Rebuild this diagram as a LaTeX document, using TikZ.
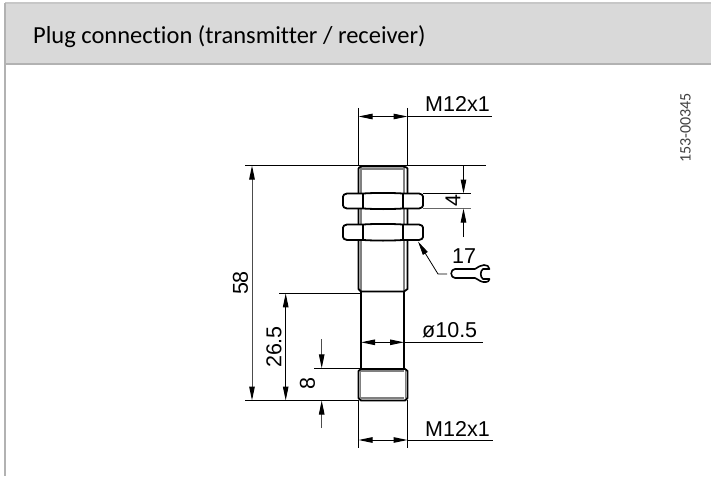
\documentclass[tikz,border=0pt]{standalone}
\usepackage{fontspec}
\setmainfont{Liberation Sans}
\newfontfamily\titlefont[Ligatures={NoCommon,NoRequired,NoContextual}]{Carlito}
\usetikzlibrary{arrows.meta}

\tikzset{
  dimline/.style={line width=1pt, {Triangle[length=14pt,width=5.5pt,color=black]}-{Triangle[length=14pt,width=5.5pt,color=black]}},
  tipline/.style={line width=1pt, -{Triangle[length=14pt,width=5.5pt,color=black]}},
  helpline/.style={line width=1pt},
  outline/.style={line width=1.8pt, line join=round},
  threadline/.style={line width=1.5pt, black!50},
  dimtext/.style={inner sep=0pt, font=\fontsize{21.5}{24}\selectfont}
}

\begin{document}
\begin{tikzpicture}[x=1pt, y=-1pt]
  \useasboundingbox (0,0) rectangle (711,476);

  % panel
  \fill[black!15] (5,3) rectangle (711,64);
  \draw[black!22, line width=2pt] (5,3.5) -- (711,3.5);
  \draw[black!30, line width=2pt] (5,64) -- (711,64);
  \draw[black!30, line width=2pt] (5,3) -- (5,476);
  \node[anchor=base west, inner sep=0pt, font=\titlefont\fontsize{24.5}{28}\selectfont] (title) at (33,44) {Plug connection (transmitter / receiver)};
  \node[rotate=90, inner sep=0pt, text=black!75, font=\titlefont\fontsize{16}{18}\selectfont] (stamp) at (685.5,128) {153-00345};

  % body
  \draw[threadline] (361,167) -- (361,291) (404,167) -- (404,291);
  \draw[outline] (358.5,168) -- (358.5,289) -- (361,291.5) -- (404,291.5) -- (407.5,289) -- (407.5,168);
  \draw[outline] (358.5,168) -- (361,166.5) -- (404,166.5) -- (407.5,168);
  \draw[threadline] (361,169) -- (404,169);
  \draw[outline] (361,292) -- (361,368) (404,292) -- (404,368);
  \draw[threadline] (361,398) -- (404,398) (361,371) -- (404,371);
  \draw[threadline] (360.5,371) -- (360.5,398) (405.5,371) -- (405.5,398);
  \draw[outline] (358.5,371) -- (361,369) -- (405,369) -- (407.5,371) -- (407.5,398) -- (405,400.5) -- (361,400.5) -- (358.5,398) -- cycle;

  % nuts
  \foreach \ytop/\ybot in {193.5/208.5, 224.5/240} {
    \draw[outline, fill=white] (363,\ytop) -- (347,\ytop) .. controls (344.5,\ytop+0.5) and (343,\ytop+1.5) .. (343,\ytop+3)
      -- (343,\ybot-3) .. controls (343,\ybot-1.5) and (344.5,\ybot-0.5) .. (347,\ybot) -- (363,\ybot)
      .. controls (376,\ybot+0.8) and (390,\ybot+0.8) .. (403,\ybot) -- (419,\ybot)
      .. controls (421.5,\ybot-0.5) and (423,\ybot-1.5) .. (423,\ybot-3) -- (423,\ytop+3)
      .. controls (423,\ytop+1.5) and (421.5,\ytop+0.5) .. (419,\ytop) -- (403,\ytop)
      .. controls (390,\ytop-0.8) and (376,\ytop-0.8) .. (363,\ytop) -- cycle;
    \draw[outline] (363,\ytop) -- (363,\ybot) (403,\ytop) -- (403,\ybot);
  }

  % top size
  \coordinate (topleft) at (358.5,116.5);
  \coordinate (topright) at (407.5,116.5);
  \draw[helpline] (358.5,108) -- (358.5,166) (407.5,108) -- (407.5,166);
  \draw[dimline] (topleft) -- (topright);
  \draw[helpline] (topright) -- (492,116.5);
  \node[dimtext, anchor=base west] (topsize) at (425,111.5) {M12x1};

  % lengths
  \draw[helpline] (245,165.5) -- (486,165.5);
  \draw[helpline] (245,400.5) -- (358,400.5);
  \draw[helpline] (279,293.3) -- (360,293.3);
  \draw[helpline] (314,368.3) -- (361,368.3);
  \draw[dimline, black!70] (252,165.5) -- (252,400.5);
  \draw[dimline] (285.7,293.3) -- (285.7,400.5);
  \draw[tipline, black!70] (321.7,339) -- (321.7,368.3);
  \draw[tipline, black!70] (321.7,428) -- (321.7,400.5);
  \node[dimtext, rotate=90] (len58) at (240.5,283) {58};
  \node[dimtext, rotate=90] (len26) at (274,347) {26.5};
  \node[dimtext, rotate=90] (len8) at (307.5,384) {8};

  % nut height
  \draw[helpline] (423,193.5) -- (471,193.5);
  \draw[helpline, black!60] (423,208.5) -- (471,208.5);
  \draw[tipline] (463.5,165.5) -- (463.5,193.5);
  \draw[tipline] (463.5,237) -- (463.5,208.5);
  \node[dimtext, rotate=90] (nut4) at (453,201) {4};

  % wrench
  \coordinate (nutedge) at (418,241.5);
  \coordinate (bend) at (438,274);
  \draw[tipline, line width=0.8pt] (447,274) -- (bend) -- (nutedge);
  \draw[line width=1.6pt, line join=round] (475,269) -- (455,269) .. controls (450,269) and (450,278) .. (455,278) -- (475,278)
    .. controls (478,279) and (481,283) .. (486,282) .. controls (488,282) and (489,281) .. (489.5,279)
    -- (483,279) .. controls (480,277) and (480,271) .. (483,269) -- (489.5,269)
    .. controls (489,266) and (487,265) .. (484,265) .. controls (481,265) and (478,267) .. (475,269);
  \node[dimtext, anchor=base west] (wrench) at (452,263) {17};

  % shaft
  \coordinate (shaftleft) at (361,342.3);
  \coordinate (shaftright) at (404,342.3);
  \draw[dimline] (shaftleft) -- (shaftright);
  \draw[helpline] (shaftright) -- (483,342.3);
  \node[dimtext, anchor=base west] (shaft) at (422,337) {ø10.5};

  % bottom size
  \coordinate (botleft) at (358.5,440);
  \coordinate (botright) at (407.5,440);
  \draw[helpline] (358.5,400) -- (358.5,448) (407.5,400) -- (407.5,448);
  \draw[dimline] (botleft) -- (botright);
  \draw[helpline] (botright) -- (492.5,440);
  \node[dimtext, anchor=base west] (botsize) at (425,436.5) {M12x1};
\end{tikzpicture}
\end{document}
